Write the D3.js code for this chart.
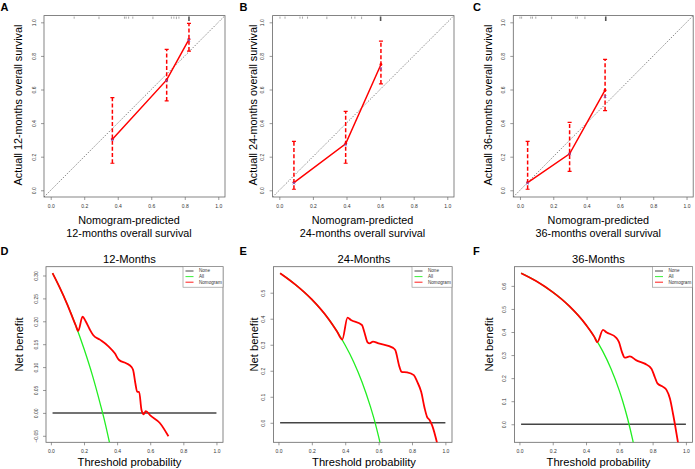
<!DOCTYPE html>
<html>
<head>
<meta charset="utf-8">
<script src="https://cdn.jsdelivr.net/npm/d3@7/dist/d3.min.js"></script>
<style>
  body { margin: 0; background: #fff; }
  svg { font-family: "Liberation Sans", Arial, sans-serif; }
</style>
</head>
<body>
<div id="chart"></div>
<script>
// Калибровка: предсказанная / наблюдаемая выживаемость
const pred12 = [0.368, 0.692, 0.825];
const obs12 = [0.304, 0.657, 0.899];
const lo12 = [0.161, 0.532, 0.829];
const hi12 = [0.552, 0.839, 0.994];
const corr12 = [0.300, 0.653, 0.895];
const rug12 = [0.14, 0.288, 0.44, 0.45, 0.465, 0.49, 0.61, 0.72, 0.735, 0.75, 0.765, 0.825];
const rugW12 = [0.4, 0.5, 0.4, 0.4, 0.4, 0.4, 0.5, 0.4, 0.4, 0.5, 0.4, 1];

const pred24 = [0.087, 0.395, 0.605];
const obs24 = [0.046, 0.277, 0.749];
const lo24 = [0.006, 0.161, 0.633];
const hi24 = [0.291, 0.470, 0.888];
const corr24 = [0.042, 0.270, 0.725];
const rug24 = [0.004, 0.034, 0.123, 0.138, 0.168, 0.283, 0.43, 0.45, 0.49, 0.603];
const rugW24 = [0.4, 0.4, 0.4, 0.4, 0.4, 0.5, 0.4, 0.4, 0.5, 1];

const pred36 = [0.046, 0.298, 0.511];
const obs36 = [0.046, 0.217, 0.596];
const lo36 = [0.006, 0.112, 0.474];
const hi36 = [0.291, 0.404, 0.779];
const corr36 = [0.042, 0.216, 0.558];
const rug36 = [0.0, 0.01, 0.065, 0.075, 0.095, 0.19, 0.335, 0.345, 0.39, 0.515];
const rugW36 = [0.4, 0.4, 0.4, 0.4, 0.4, 0.5, 0.4, 0.4, 0.5, 1];

// DCA: Nomogram и All
const thr12 = [0.01, 0.05, 0.1, 0.15, 0.165, 0.191, 0.21, 0.235, 0.255, 0.296, 0.346, 0.386, 0.41, 0.457, 0.487, 0.497, 0.511, 0.521, 0.533, 0.547, 0.561, 0.573, 0.602, 0.658, 0.71];
const nom12 = [0.305, 0.276, 0.236, 0.191, 0.179, 0.210, 0.200, 0.182, 0.170, 0.160, 0.146, 0.130, 0.116, 0.108, 0.100, 0.093, 0.063, 0.046, 0.046, 0.007, -0.003, 0.004, -0.006, -0.022, -0.051];
const allThr12 = [0.01, 0.05, 0.1, 0.15, 0.2, 0.25, 0.3, 0.33, 0.36];
const all12 = [0.305, 0.276, 0.236, 0.191, 0.140, 0.083, 0.017, -0.026, -0.075];

const thr24 = [0.01, 0.1, 0.2, 0.3, 0.35, 0.382, 0.414, 0.434, 0.5, 0.514, 0.534, 0.546, 0.566, 0.6, 0.687, 0.70, 0.725, 0.737, 0.771, 0.811, 0.831, 0.855, 0.876, 0.89, 0.906, 0.92, 0.955];
const nom24 = [0.575, 0.532, 0.474, 0.399, 0.352, 0.320, 0.404, 0.395, 0.376, 0.350, 0.309, 0.305, 0.312, 0.305, 0.288, 0.279, 0.215, 0.196, 0.194, 0.183, 0.158, 0.119, 0.055, 0.023, 0.010, -0.009, -0.09];
const allThr24 = [0.01, 0.05, 0.1, 0.15, 0.2, 0.25, 0.3, 0.35, 0.4, 0.45, 0.5, 0.55, 0.58, 0.6, 0.62];
const all24 = [0.575, 0.557, 0.532, 0.505, 0.474, 0.439, 0.399, 0.352, 0.298, 0.235, 0.158, 0.064, -0.002, -0.053, -0.108];

const thr36 = [0.01, 0.1, 0.2, 0.3, 0.4, 0.45, 0.468, 0.502, 0.522, 0.582, 0.598, 0.616, 0.633, 0.663, 0.703, 0.753, 0.793, 0.813, 0.829, 0.863, 0.884, 0.904, 0.924, 0.934, 0.955];
const nom36 = [0.655, 0.621, 0.573, 0.512, 0.431, 0.379, 0.356, 0.409, 0.399, 0.375, 0.356, 0.313, 0.289, 0.294, 0.277, 0.263, 0.241, 0.205, 0.177, 0.162, 0.148, 0.112, 0.040, 0.000, -0.09];
const allThr36 = [0.01, 0.1, 0.15, 0.2, 0.25, 0.3, 0.35, 0.4, 0.45, 0.5, 0.55, 0.6, 0.62, 0.65, 0.68, 0.7];
const all36 = [0.655, 0.621, 0.598, 0.573, 0.545, 0.512, 0.475, 0.431, 0.379, 0.317, 0.241, 0.146, 0.101, 0.024, -0.067, -0.138];

const legendNames = ["None", "All", "Nomogram"];
const legendColors = ["#333", "#22ee22", "#ff0000"];

const svg = d3.select("#chart").append("svg")
    .attr("width", 695)
    .attr("height", 469);

// как в R: диапазон +4% с каждой стороны
function ext(lo, hi) {
    const d = (hi - lo) * 0.04;
    return [lo - d, hi + d];
}

function drawAxes(g, x, y, p, xTicks, yTicks, yFmt) {
    const ax = g.append("g")
        .attr("transform", `translate(0,${p.y1})`)
        .call(d3.axisBottom(x).tickValues(xTicks).tickFormat(d3.format(".1f")).tickSize(3).tickPadding(4));
    const ay = g.append("g")
        .attr("transform", `translate(${p.x0},0)`)
        .call(d3.axisLeft(y).tickValues(yTicks).tickFormat(yFmt).tickSize(3));
    ay.selectAll("text")
        .attr("x", null).attr("dy", null)
        .attr("transform", "translate(-10.5,0) rotate(-90)")
        .attr("text-anchor", "middle")
        .attr("dominant-baseline", "central");
    [ax, ay].forEach(a => {
        a.attr("font-family", null).attr("font-size", 5);
        a.select(".domain").remove();
        a.selectAll("line").attr("stroke", "#555").attr("stroke-width", 0.6);
        a.selectAll("text").attr("fill", "#333");
    });
    g.append("rect")
        .attr("x", p.x0).attr("y", p.y0)
        .attr("width", p.x1 - p.x0).attr("height", p.y1 - p.y0)
        .attr("fill", "none").attr("stroke", "#666").attr("stroke-width", 0.8);
}

function clip(id, p) {
    svg.append("clipPath").attr("id", id).append("rect")
        .attr("x", p.x0).attr("y", p.y0)
        .attr("width", p.x1 - p.x0).attr("height", p.y1 - p.y0);
    return `url(#${id})`;
}

function panelLabel(txt, x, y) {
    svg.append("text").attr("x", x).attr("y", y)
        .attr("font-size", 11).attr("font-weight", "bold").text(txt);
}

function calPanel(p) {
    const x = d3.scaleLinear().domain(ext(0, 1)).range([p.x0, p.x1]);
    const y = d3.scaleLinear().domain(ext(0, 1)).range([p.y1, p.y0]);
    const g = svg.append("g");
    const cp = clip("clip" + p.letter, p);
    const ticks = [0, 0.2, 0.4, 0.6, 0.8, 1];

    drawAxes(g, x, y, p, ticks, ticks, d3.format(".1f"));

    const inner = g.append("g").attr("clip-path", cp);

    // идеальная диагональ
    inner.append("line")
        .attr("x1", x(-0.04)).attr("y1", y(-0.04))
        .attr("x2", x(1.04)).attr("y2", y(1.04))
        .attr("stroke", "#555").attr("stroke-width", 0.8)
        .attr("stroke-dasharray", "1.2,1.5");

    // распределение предсказаний сверху
    inner.selectAll("line.rug")
        .data(p.rug)
        .enter().append("line")
        .attr("class", "rug")
        .attr("x1", d => x(d)).attr("x2", d => x(d))
        .attr("y1", p.y0 + 1)
        .attr("y2", (d, i) => p.y0 + 1.5 + 4 * p.rugW[i])
        .attr("stroke", (d, i) => p.rugW[i] > 0.9 ? "#555" : "#a8a8a8")
        .attr("stroke-width", (d, i) => p.rugW[i] > 0.9 ? 1.6 : 1);

    const idx = d3.range(p.pred.length);

    // доверительные интервалы
    inner.selectAll("line.err")
        .data(idx)
        .enter().append("line")
        .attr("class", "err")
        .attr("x1", i => x(p.pred[i])).attr("x2", i => x(p.pred[i]))
        .attr("y1", i => y(p.lo[i])).attr("y2", i => y(p.hi[i]))
        .attr("stroke", "#ff0000").attr("stroke-width", 1.5)
        .attr("stroke-dasharray", "4,2.2");

    ["lo", "hi"].forEach(k => {
        inner.selectAll("line.cap" + k)
            .data(idx)
            .enter().append("line")
            .attr("x1", i => x(p.pred[i]) - 2).attr("x2", i => x(p.pred[i]) + 2)
            .attr("y1", i => y(p[k][i])).attr("y2", i => y(p[k][i]))
            .attr("stroke", "#ff0000").attr("stroke-width", 1.2);
    });

    inner.append("path")
        .datum(idx)
        .attr("fill", "none").attr("stroke", "#ff0000").attr("stroke-width", 1.5)
        .attr("d", d3.line().x(i => x(p.pred[i])).y(i => y(p.obs[i])));

    inner.selectAll("circle.pt")
        .data(idx)
        .enter().append("circle")
        .attr("cx", i => x(p.pred[i])).attr("cy", i => y(p.obs[i]))
        .attr("r", 1.4).attr("fill", "#ff0000");

    // скорректированные оценки (синие x)
    inner.selectAll("path.cx")
        .data(idx)
        .enter().append("path")
        .attr("d", i => {
            const cx = x(p.pred[i]), cy = y(p.corr[i]);
            return `M${cx - 1.3},${cy - 1.3}L${cx + 1.3},${cy + 1.3}M${cx - 1.3},${cy + 1.3}L${cx + 1.3},${cy - 1.3}`;
        })
        .attr("stroke", "#5566ee").attr("stroke-width", 0.7);

    // подписи осей
    g.append("text")
        .attr("x", p.tx).attr("y", p.y1 + 26.8)
        .attr("text-anchor", "middle").attr("font-size", 10.8)
        .text("Nomogram-predicted");
    g.append("text")
        .attr("x", p.tx).attr("y", p.y1 + 39.5)
        .attr("text-anchor", "middle").attr("font-size", 10.8)
        .text(`${p.months}-months overall survival`);
    g.append("text")
        .attr("transform", `translate(${p.ly},105) rotate(-90)`)
        .attr("text-anchor", "middle").attr("font-size", 10.8)
        .text(`Actuall ${p.months}-months overall survival`);

    panelLabel(p.letter, p.lx, 10.5);
}

function dcaPanel(p) {
    const x = d3.scaleLinear().domain(ext(0.01, 1)).range([p.x0, p.x1]);
    const y = d3.scaleLinear().domain(ext(-0.05, p.nom[0])).range([p.y1, p.y0]);
    const g = svg.append("g");
    const cp = clip("clip" + p.letter, p);

    drawAxes(g, x, y, p, [0, 0.2, 0.4, 0.6, 0.8, 1], p.yTicks, p.yFmt);

    const inner = g.append("g").attr("clip-path", cp);

    // None
    inner.append("line")
        .attr("x1", x(0.01)).attr("x2", x(1))
        .attr("y1", y(0)).attr("y2", y(0))
        .attr("stroke", "#444").attr("stroke-width", 1.5);

    const line = d3.line().curve(d3.curveMonotoneX);

    inner.append("path")
        .attr("fill", "none").attr("stroke", "#22ee22").attr("stroke-width", 1.3)
        .attr("d", line(p.allThr.map((t, i) => [x(t), y(p.all[i])])));

    inner.append("path")
        .attr("fill", "none").attr("stroke", "#ff0000").attr("stroke-width", 1.8)
        .attr("stroke-linejoin", "round")
        .attr("d", line(p.thr.map((t, i) => [x(t), y(p.nom[i])])));

    // легенда
    const lg = g.append("g").attr("transform", `translate(${p.x1 - 40},${p.y0})`);
    lg.append("rect")
        .attr("width", 40).attr("height", 20.5)
        .attr("fill", "#fff").attr("stroke", "#888").attr("stroke-width", 0.6);
    legendNames.forEach((n, i) => {
        const yy = 4.3 + i * 5.6;
        lg.append("line")
            .attr("x1", 2.5).attr("x2", 10.5).attr("y1", yy).attr("y2", yy)
            .attr("stroke", legendColors[i]).attr("stroke-width", 0.9);
        lg.append("text")
            .attr("x", 16).attr("y", yy)
            .attr("dominant-baseline", "central")
            .attr("font-size", 4.6).attr("fill", "#333")
            .text(n);
    });

    g.append("text")
        .attr("x", p.tx).attr("y", 262.5)
        .attr("text-anchor", "middle").attr("font-size", 11.2)
        .text(`${p.months}-Months`);
    g.append("text")
        .attr("x", p.tx).attr("y", 466)
        .attr("text-anchor", "middle").attr("font-size", 11.2)
        .text("Threshold probability");
    g.append("text")
        .attr("transform", `translate(${p.ly},344.5) rotate(-90)`)
        .attr("text-anchor", "middle").attr("font-size", 11.2)
        .text("Net benefit");

    panelLabel(p.letter, p.lx, 254.5);
}

const topBox = { y0: 15.6, y1: 197 };
calPanel({ ...topBox, letter: "A", months: 12, x0: 44, x1: 225, tx: 129, ly: 21.5, lx: 0.5,
    pred: pred12, obs: obs12, lo: lo12, hi: hi12, corr: corr12, rug: rug12, rugW: rugW12 });
calPanel({ ...topBox, letter: "B", months: 24, x0: 272.6, x1: 454, tx: 362.5, ly: 256.5, lx: 239.5,
    pred: pred24, obs: obs24, lo: lo24, hi: hi24, corr: corr24, rug: rug24, rugW: rugW24 });
calPanel({ ...topBox, letter: "C", months: 36, x0: 513.3, x1: 693.2, tx: 598.3, ly: 491.5, lx: 473,
    pred: pred36, obs: obs36, lo: lo36, hi: hi36, corr: corr36, rug: rug36, rugW: rugW36 });

const botBox = { y0: 266.7, y1: 442.3 };
dcaPanel({ ...botBox, letter: "D", months: 12, x0: 46, x1: 223, tx: 129.5, ly: 23, lx: 0.5,
    thr: thr12, nom: nom12, allThr: allThr12, all: all12,
    yTicks: [-0.05, 0, 0.05, 0.1, 0.15, 0.2, 0.25, 0.3], yFmt: d3.format(".2f") });
dcaPanel({ ...botBox, letter: "E", months: 24, x0: 273.5, x1: 452, tx: 364, ly: 258, lx: 239.5,
    thr: thr24, nom: nom24, allThr: allThr24, all: all24,
    yTicks: [0, 0.1, 0.2, 0.3, 0.4, 0.5], yFmt: d3.format(".1f") });
dcaPanel({ ...botBox, letter: "F", months: 36, x0: 514.5, x1: 692.5, tx: 598.5, ly: 493, lx: 473,
    thr: thr36, nom: nom36, allThr: allThr36, all: all36,
    yTicks: [0, 0.1, 0.2, 0.3, 0.4, 0.5, 0.6], yFmt: d3.format(".1f") });
</script>
</body>
</html>
